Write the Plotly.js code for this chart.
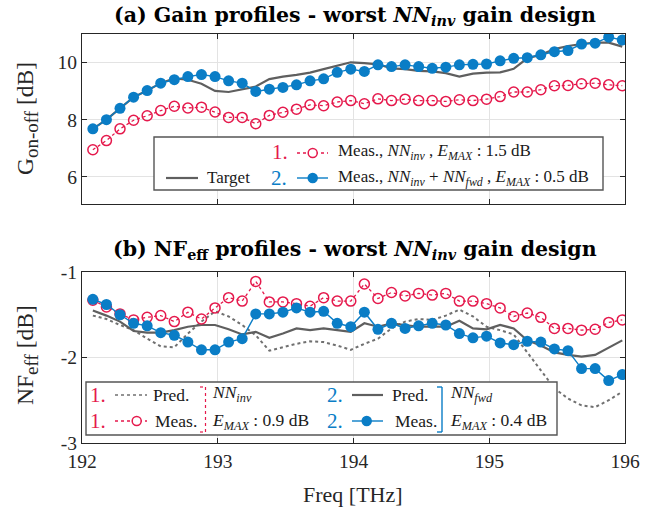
<!DOCTYPE html>
<html>
<head>
<meta charset="utf-8">
<script src="https://cdn.plot.ly/plotly-3.0.1.min.js"></script>
<style>
body{margin:0;padding:0;background:#fff;}
</style>
</head>
<body>
<div id="chart"></div>
<script>
// ---------- data ----------
const freq = [192.08,192.18,192.28,192.38,192.48,192.58,192.68,192.78,192.88,192.98,
              193.08,193.18,193.28,193.38,193.48,193.58,193.68,193.78,193.88,193.98,
              194.08,194.18,194.28,194.38,194.48,194.58,194.68,194.78,194.88,194.98,
              195.08,195.18,195.28,195.38,195.48,195.58,195.68,195.78,195.88,195.98];

const gainTarget = [7.68,8.00,8.40,8.79,9.02,9.28,9.45,9.40,9.26,9.01,
                    8.97,9.07,9.16,9.42,9.51,9.57,9.65,9.77,9.88,10.01,
                    9.98,9.94,9.80,9.77,9.71,9.69,9.63,9.51,9.61,9.65,
                    9.66,9.78,10.15,10.27,10.47,10.58,10.65,10.70,10.70,10.56];
const gainMeasInv = [6.95,7.27,7.68,7.98,8.14,8.32,8.47,8.41,8.44,8.27,
                     8.08,8.08,7.86,8.15,8.26,8.37,8.52,8.49,8.62,8.67,
                     8.56,8.73,8.67,8.72,8.67,8.67,8.64,8.70,8.67,8.72,
                     8.81,8.97,8.97,9.05,9.19,9.20,9.26,9.28,9.22,9.19];
const gainMeasFwd = [7.68,8.00,8.40,8.79,9.02,9.28,9.40,9.51,9.58,9.51,
                     9.36,9.28,8.99,9.07,9.13,9.22,9.36,9.43,9.66,9.77,
                     9.69,9.92,9.86,9.92,9.86,9.80,9.84,9.92,9.94,9.95,
                     10.06,10.15,10.17,10.27,10.38,10.42,10.65,10.68,10.89,10.79];

const nfPredInv = [-1.51,-1.55,-1.62,-1.68,-1.78,-1.87,-1.88,-1.72,-1.58,-1.46,
                   -1.52,-1.62,-1.74,-1.92,-1.88,-1.84,-1.81,-1.82,-1.86,-1.91,
                   -1.84,-1.78,-1.66,-1.58,-1.55,-1.56,-1.51,-1.44,-1.52,-1.64,
                   -1.68,-1.73,-1.94,-2.15,-2.36,-2.48,-2.56,-2.58,-2.50,-2.40];
const nfMeasInv = [-1.33,-1.41,-1.49,-1.56,-1.53,-1.51,-1.58,-1.47,-1.55,-1.42,
                   -1.30,-1.34,-1.11,-1.35,-1.35,-1.37,-1.40,-1.30,-1.34,-1.34,
                   -1.14,-1.31,-1.24,-1.28,-1.25,-1.27,-1.25,-1.34,-1.34,-1.37,
                   -1.42,-1.52,-1.48,-1.53,-1.66,-1.66,-1.68,-1.67,-1.59,-1.56];
const nfPredFwd = [-1.45,-1.51,-1.58,-1.69,-1.71,-1.71,-1.68,-1.64,-1.62,-1.62,
                   -1.67,-1.73,-1.70,-1.77,-1.72,-1.66,-1.68,-1.66,-1.68,-1.70,
                   -1.60,-1.64,-1.60,-1.62,-1.64,-1.64,-1.64,-1.57,-1.66,-1.67,
                   -1.62,-1.66,-1.80,-1.86,-1.94,-1.97,-1.99,-1.97,-1.88,-1.80];
const nfMeasFwd = [-1.32,-1.38,-1.50,-1.60,-1.63,-1.71,-1.74,-1.82,-1.91,-1.91,
                   -1.82,-1.78,-1.49,-1.49,-1.47,-1.42,-1.47,-1.46,-1.60,-1.64,
                   -1.47,-1.67,-1.60,-1.66,-1.63,-1.60,-1.62,-1.72,-1.77,-1.75,
                   -1.83,-1.85,-1.81,-1.82,-1.90,-1.92,-2.13,-2.13,-2.27,-2.20];

const xTicks = [192,193,194,195,196];
const xTickText = ['192','193','194','195','196'];
const gainTicks = [6,8,10];
const gainTickText = ['6','8','10'];
const nfTicks = [-3,-2,-1];
const nfTickText = ['-3','-2','-1'];

// ---------- styles ----------
const RED = '#E5194C';
const BLUE = '#0A7DC6';
const GREY = '#5F5F5F';
const DGREY = '#707070';
const FONT = 'Liberation Serif';
const TFONT = 'DejaVu Serif';
const W = 662, H = 508;
const M = {l:82, r:37, t:34, b:65};
const PW = W - M.l - M.r, PH = H - M.t - M.b;
const px = x => (x - M.l) / PW;
const py = y => (H - M.b - y) / PH;

const traces = [
  {x:freq, y:gainTarget, xaxis:'x', yaxis:'y', mode:'lines', line:{color:GREY, width:2.2}, showlegend:false},
  {x:freq, y:gainMeasInv, xaxis:'x', yaxis:'y', mode:'lines+markers',
   line:{color:RED, width:1.3, dash:'dot'},
   marker:{symbol:'circle-open', size:10, color:RED, line:{width:1.5, color:RED}}, showlegend:false},
  {x:freq, y:gainMeasFwd, xaxis:'x', yaxis:'y', mode:'lines+markers',
   line:{color:BLUE, width:1.4},
   marker:{symbol:'circle', size:11, color:BLUE}, showlegend:false},

  {x:freq, y:nfPredInv, xaxis:'x2', yaxis:'y2', mode:'lines', line:{color:DGREY, width:2, dash:'dot'}, showlegend:false},
  {x:freq, y:nfPredFwd, xaxis:'x2', yaxis:'y2', mode:'lines', line:{color:GREY, width:2.2}, showlegend:false},
  {x:freq, y:nfMeasInv, xaxis:'x2', yaxis:'y2', mode:'lines+markers',
   line:{color:RED, width:1.3, dash:'dot'},
   marker:{symbol:'circle-open', size:10, color:RED, line:{width:1.5, color:RED}}, showlegend:false},
  {x:freq, y:nfMeasFwd, xaxis:'x2', yaxis:'y2', mode:'lines+markers',
   line:{color:BLUE, width:1.4},
   marker:{symbol:'circle', size:11, color:BLUE}, showlegend:false}
];

const axBase = {
  showline:true, mirror:'ticks', linecolor:'#262626', linewidth:1.2,
  ticks:'inside', ticklen:5, tickcolor:'#262626', tickwidth:1,
  showgrid:true, gridcolor:'#E3E3E3', gridwidth:1, zeroline:false,
  tickfont:{family:FONT, size:19.5, color:'#262626'}
};

const topDom = [py(204), 1];
const botDom = [0, py(272)];

const shapes = [];
const ann = [];

function txt(x, y, text, size, color, xanchor, extra, fam) {
  ann.push(Object.assign({xref:'paper', yref:'paper', x:px(x), y:py(y), text:text, showarrow:false,
    xanchor:xanchor||'left', yanchor:'middle', font:{family:fam||FONT, size:size, color:color||'#1a1a1a'}}, extra||{}));
}
function ln(x0, y0, x1, y1, color, width, dash) {
  shapes.push({type:'line', xref:'paper', yref:'paper', x0:px(x0), y0:py(y0), x1:px(x1), y1:py(y1),
    line:{color:color, width:width, dash:dash||'solid'}});
}
function circ(x, y, r, fill, color) {
  shapes.push({type:'circle', xref:'paper', yref:'paper', xsizemode:'pixel', ysizemode:'pixel',
    xanchor:px(x), yanchor:py(y), x0:-r, x1:r, y0:-r, y1:r,
    fillcolor:fill, line:{color:color, width:1.5}});
}
function rect(x0, y0, x1, y1) {
  shapes.push({type:'rect', xref:'paper', yref:'paper', x0:px(x0), y0:py(y1), x1:px(x1), y1:py(y0),
    fillcolor:'#ffffff', line:{color:'#555555', width:1.4}, layer:'above'});
}

// ----- top legend -----
rect(154, 137, 603, 190);
txt(280, 152, '1.', 21, RED, 'center');
ln(297, 153, 328, 153, RED, 1.3, 'dot');
circ(312.7, 153, 4.5, '#ffffff', RED);
txt(336, 152, 'Meas., <i>NN<sub>inv</sub></i> , <i>E<sub>MAX</sub></i> : 1.5 dB', 17);
ln(166, 178, 198, 178, GREY, 2.2);
txt(205, 178, 'Target', 17);
txt(279, 178, '2.', 21, BLUE, 'center');
ln(297, 178, 328, 178, BLUE, 1.4);
circ(312.7, 178, 4.5, BLUE, BLUE);
txt(336, 178, 'Meas., <i>NN<sub>inv</sub></i> + <i>NN<sub>fwd</sub></i> , <i>E<sub>MAX</sub></i> : 0.5 dB', 17);

// ----- bottom legend -----
rect(86, 382, 557, 435);
txt(97.5, 395, '1.', 21, RED, 'center');
ln(115, 395, 147, 395, DGREY, 1.6, 'dot');
txt(151, 395, 'Pred.', 17.5);
txt(97.5, 421, '1.', 21, RED, 'center');
ln(115, 421, 147, 421, RED, 1.3, 'dot');
circ(136.7, 421, 4.5, '#ffffff', RED);
txt(153, 421, 'Meas.', 17.5);
ln(200, 387, 205.5, 387, RED, 1.2, 'dot');
ln(205.5, 387, 205.5, 432, RED, 1.2, 'dot');
ln(200, 432, 205.5, 432, RED, 1.2, 'dot');
txt(210, 393, '<i>NN<sub>inv</sub></i>', 17.5);
txt(210, 421, '<i>E<sub>MAX</sub></i> : 0.9 dB', 17.5);

txt(335, 395, '2.', 21, BLUE, 'center');
ln(352, 395, 383, 395, GREY, 2.2);
txt(390, 395, 'Pred.', 17.5);
txt(335, 421, '2.', 21, BLUE, 'center');
ln(352, 421, 383, 421, BLUE, 1.4);
circ(366.7, 421, 4.5, BLUE, BLUE);
txt(393, 421, 'Meas.', 17.5);
ln(437, 387, 442, 387, BLUE, 1.4);
ln(442, 387, 442, 432, BLUE, 1.4);
ln(437, 432, 442, 432, BLUE, 1.4);
txt(448, 393, '<i>NN<sub>fwd</sub></i>', 17.5);
txt(448, 421, '<i>E<sub>MAX</sub></i> : 0.4 dB', 17.5);

// ----- titles -----
txt(355, 16, '<b>(a) Gain profiles - worst <i>NN<sub>inv</sub></i> gain design</b>', 20.5, '#000', 'center', {}, TFONT);
txt(355, 250, '<b>(b) NF<sub>eff</sub> profiles - worst <i>NN<sub>inv</sub></i> gain design</b>', 20.5, '#000', 'center', {}, TFONT);
txt(27, 119, 'G<sub><span style="font-size:19px">on-off</span></sub> [dB]', 23.5, '#262626', 'center', {textangle:-90});
txt(27, 355, 'NF<sub><span style="font-size:19px">eff</span></sub> [dB]', 23.5, '#262626', 'center', {textangle:-90});
txt(353, 495, 'Freq [THz]', 22, '#262626', 'center');

const layout = {
  width:W, height:H, margin:M, paper_bgcolor:'#ffffff', plot_bgcolor:'#ffffff',
  showlegend:false,
  font:{family:FONT},
  xaxis: Object.assign({}, axBase, {domain:[0,1], anchor:'y', range:[192,196], tickvals:xTicks, ticktext:xTickText, showticklabels:false}),
  yaxis: Object.assign({}, axBase, {domain:topDom, anchor:'x', range:[5.05,11], tickvals:gainTicks, ticktext:gainTickText}),
  xaxis2: Object.assign({}, axBase, {domain:[0,1], anchor:'y2', range:[192,196], tickvals:xTicks, ticktext:xTickText}),
  yaxis2: Object.assign({}, axBase, {domain:botDom, anchor:'x2', range:[-3,-1], tickvals:nfTicks, ticktext:nfTickText}),
  shapes:shapes, annotations:ann
};

Plotly.newPlot('chart', traces, layout, {displayModeBar:false, staticPlot:true});
</script>
</body>
</html>
